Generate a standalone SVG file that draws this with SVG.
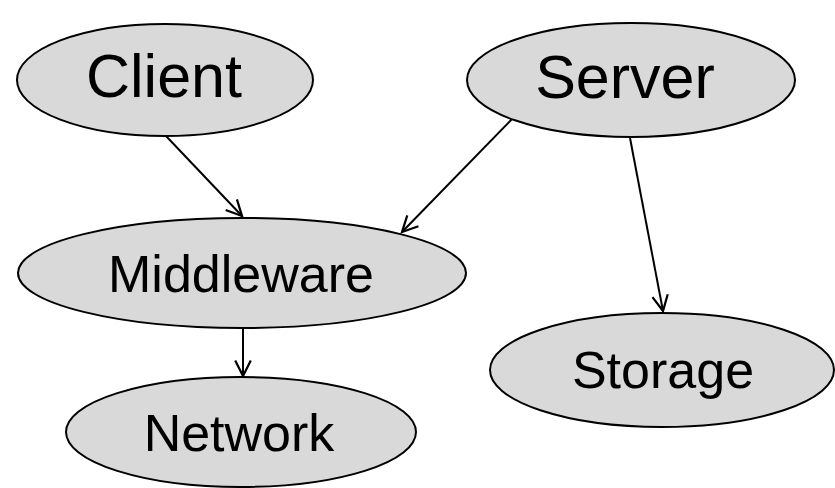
<svg xmlns="http://www.w3.org/2000/svg" width="835" height="488" viewBox="0 0 835 488">
<style>
.node ellipse{fill:#d9d9d9;stroke:#000;stroke-width:2}
.big{font-family:"Liberation Sans",Arial,sans-serif;font-size:61px;fill:#000;text-anchor:middle}
.mid{font-family:"Liberation Sans",Arial,sans-serif;font-size:52px;fill:#000;text-anchor:middle}
.edges line{stroke:#000;stroke-width:2;marker-end:url(#arr)}
</style>
<defs>
<marker id="arr" markerUnits="userSpaceOnUse" markerWidth="20" markerHeight="20" viewBox="-16 -9 18 18" refX="0" refY="0" orient="auto">
<path d="M-14,-7 L0,0 L-14,7" fill="none" stroke="#000" stroke-width="2"/>
</marker>
</defs>
<rect width="835" height="488" fill="#fff"/>
<g class="edges">
<line x1="166" y1="136" x2="242" y2="216"/>
<line x1="513" y1="118" x2="402" y2="232"/>
<line x1="630" y1="138" x2="663" y2="311"/>
<line x1="243" y1="328" x2="243" y2="376"/>
</g>
<g id="client" class="node"><ellipse cx="165" cy="80" rx="148" ry="56"/><text class="big" x="164" y="97">Client</text></g>
<g id="server" class="node"><ellipse cx="631" cy="80" rx="164" ry="57"/><text class="big" x="625" y="98">Server</text></g>
<g id="middleware" class="node"><ellipse cx="242" cy="273" rx="224" ry="55"/><text class="mid" x="241" y="292">Middleware</text></g>
<g id="storage" class="node"><ellipse cx="662" cy="370" rx="172" ry="57"/><text class="mid" x="663" y="388">Storage</text></g>
<g id="network" class="node"><ellipse cx="241" cy="432" rx="175" ry="55"/><text class="mid" x="239" y="451">Network</text></g>
</svg>
